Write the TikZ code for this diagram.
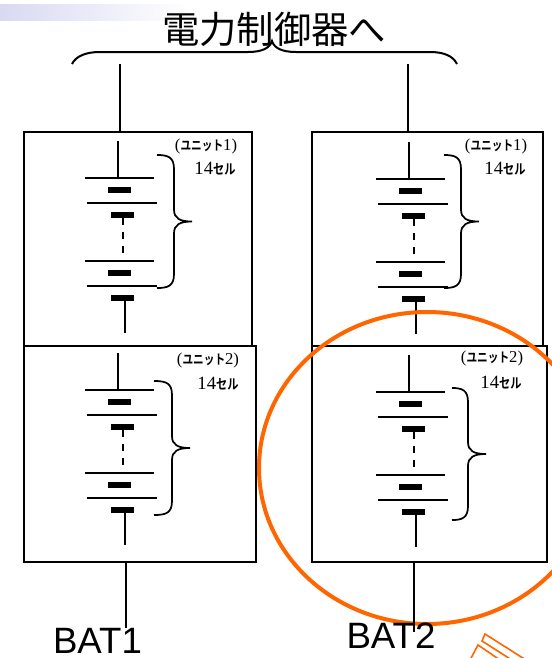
\documentclass[tikz,border=0pt]{standalone}
\usepackage{fontspec}
\setmainfont{Liberation Sans}
\newfontfamily\jpfont{Noto Sans CJK JP}
\newfontfamily\jpnarrow{Noto Sans CJK JP Bold}[FakeStretch=0.8]
\newfontfamily\numfont{Liberation Serif}
\usetikzlibrary{calc}
\definecolor{orng}{HTML}{FF6600}
\definecolor{band}{HTML}{D9D9F2}
\tikzset{
  wire/.style={line width=1.5pt},
  thinwire/.style={line width=1.3pt},
  plate/.style={line width=1.2pt},
  cellbar/.style={fill=black,draw=none},
  unitbox/.style={draw=black,line width=1.7pt,fill=white,anchor=north west,inner sep=0pt,outer sep=0pt},
  unitlabel/.style={inner sep=0pt},
  batlabel/.style={inner sep=0pt,font=\fontsize{27.5pt}{28pt}\selectfont}
}
\newcommand{\cellstack}[2]{%
 \begin{scope}[shift={(#1,#2)}]
  \draw[thinwire] (118,-37) -- (118,0);
  \draw[plate] (85,0) -- (154,0);
  \fill[cellbar] (108,9) rectangle (131,15);
  \draw[plate] (87,25) -- (157,25);
  \fill[cellbar] (111,34) rectangle (134,40);
  \draw[thinwire,dash pattern=on 5.5pt off 5pt] (123,40) -- (123,83);
  \draw[plate] (85,83) -- (154,83);
  \fill[cellbar] (108,92) rectangle (131,98);
  \draw[plate] (87,108) -- (157,108);
  \fill[cellbar] (111,117) rectangle (134,123);
  \draw[thinwire] (125,123) -- (125,155);
 \end{scope}}
\newcommand{\sidebrace}[4]{% x0, ytop, spine, ybottom
 \pgfmathsetmacro{\ymid}{(#2+#4)/2}
 \draw[thinwire] (#1,#2) .. controls (#3-6,#2) and (#3,#2+2) .. (#3,#2+14)
   -- (#3,\ymid-12) .. controls (#3,\ymid-3) and (#3+6,\ymid) .. (#3+18,\ymid)
   .. controls (#3+6,\ymid) and (#3,\ymid+3) .. (#3,\ymid+12)
   -- (#3,#4-14) .. controls (#3,#4-2) and (#3-6,#4) .. (#1,#4);}
\newcommand{\uname}[1]{{\numfont\fontsize{12.5pt}{14pt}\selectfont (}{\jpnarrow\fontsize{10pt}{12pt}\selectfont ユニット}{\numfont\fontsize{12.5pt}{14pt}\selectfont #1)}}
\newcommand{\cnt}{{\numfont\fontsize{14pt}{15pt}\selectfont 14}{\jpnarrow\fontsize{10.5pt}{12pt}\selectfont セル}}
\begin{document}
\begin{tikzpicture}[x=0.75pt,y=-0.75pt]
\useasboundingbox (0,0) rectangle (552,658);
\clip (0,0) rectangle (552,658);
% banner
\shade[left color=band,right color=white,draw=none] (0,4) rectangle (190,20);
% title
\node[inner sep=0pt,font=\jpfont\fontsize{28pt}{30pt}\selectfont] (title) at (274,29) {電力制御器へ};
% top brace
\draw[wire] (72,64) .. controls (76,56) and (86,52) .. (100,52) -- (248,52)
  .. controls (262,52) and (270,48) .. (272,41)
  .. controls (274,48) and (282,52) .. (296,52) -- (430,52)
  .. controls (444,52) and (453,56) .. (457,64);
% boxes
\node[unitbox,minimum width=228*0.75pt,minimum height=214*0.75pt] (u1l) at (24,132) {};
\node[unitbox,minimum width=231*0.75pt,minimum height=214*0.75pt] (u1r) at (312,132) {};
\node[unitbox,minimum width=232*0.75pt,minimum height=216*0.75pt] (u2l) at (24,346) {};
\node[unitbox,minimum width=235*0.75pt,minimum height=216*0.75pt] (u2r) at (312,346) {};
% cells
\cellstack{0}{178}
\cellstack{291}{179}
\cellstack{0}{390}
\cellstack{291}{392}
% braces
\sidebrace{157}{155}{174}{288}
\sidebrace{444}{155}{461}{288}
\sidebrace{154}{381}{172}{515}
\sidebrace{452}{388}{468}{520}
% labels
\node[unitlabel] (a1) at (206,146) {\uname{1}};
\node[unitlabel] (c1) at (215,169) {\cnt};
\node[unitlabel] (a2) at (496,146) {\uname{1}};
\node[unitlabel] (c2) at (505,169) {\cnt};
\node[unitlabel] (a3) at (208,360) {\uname{2}};
\node[unitlabel] (c3) at (218,384) {\cnt};
\node[unitlabel] (a4) at (492,358) {\uname{2}};
\node[unitlabel] (c4) at (501,383) {\cnt};
% highlight
\draw[orng,line width=3pt] (427,468) ellipse [x radius=168,y radius=156];
\draw[orng,line width=1.2pt] (526,660) -- (485,634) -- (482,641) -- (515,662);
\draw[orng,line width=1.2pt] (470,660) -- (478,645) -- (500,660);
% connectors
\coordinate (t1) at (120,64);
\coordinate (t2) at (408,64);
\coordinate (b1) at (126,628);
\coordinate (b2) at (414,632);
\draw[wire] (t1) -- (t1 |- u1l.north);
\draw[wire] (t2) -- (t2 |- u1r.north);
\draw[wire] (b1 |- u2l.south) -- (b1);
\draw[wire] (b2 |- u2r.south) -- (b2);
\node[batlabel] (bat1) at (97.5,641) {BAT1};
\node[batlabel] (bat2) at (391,635.5) {BAT2};
\end{tikzpicture}
\end{document}
